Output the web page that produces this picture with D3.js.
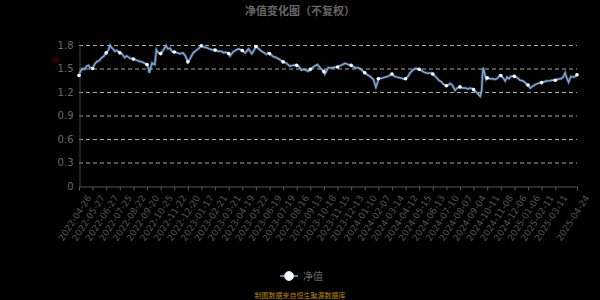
<!DOCTYPE html>
<html>
<head>
<meta charset="utf-8">
<title>净值变化图</title>
<script src="https://cdn.jsdelivr.net/npm/d3@7"></script>
<style>
  html, body { margin: 0; padding: 0; background: #000; }
  svg { display: block; background: #000; font-family: "Noto Sans CJK SC", "DejaVu Sans", sans-serif; }
</style>
</head>
<body>
<script>
// x axis labels (category axis, one label every 20 trading days, last one = last day)
var tickLabels = ["2022-04-26","2022-05-27","2022-06-27","2022-07-25","2022-08-22","2022-09-20",
  "2022-10-25","2022-11-22","2022-12-20","2023-01-17","2023-02-21","2023-03-21","2023-04-19",
  "2023-05-22","2023-06-19","2023-07-19","2023-08-16","2023-09-13","2023-10-18","2023-11-15",
  "2023-12-13","2024-01-10","2024-02-07","2024-03-14","2024-04-12","2024-05-15","2024-06-13",
  "2024-07-10","2024-08-07","2024-09-04","2024-10-11","2024-11-08","2024-12-06","2025-01-06",
  "2025-02-11","2025-03-11","2025-04-24"];
var tickStep = 20;     // trading days between labels
var lastDay = 732;     // trading day number of the last date

var yTicks = [0, 0.3, 0.6, 0.9, 1.2, 1.5, 1.8];

// 净值
var navDates = ["2022-04-26","2022-04-29","2022-05-05","2022-05-09","2022-05-13","2022-05-18","2022-05-21","2022-05-27",
  "2022-05-31","2022-06-06","2022-06-11","2022-06-17","2022-06-22","2022-06-27",
  "2022-07-01","2022-07-05","2022-07-09","2022-07-15","2022-07-19","2022-07-25",
  "2022-07-29","2022-08-04","2022-08-08","2022-08-15","2022-08-22",
  "2022-08-27","2022-09-05","2022-09-11","2022-09-20",
  "2022-09-22","2022-09-26","2022-09-29","2022-10-03","2022-10-05","2022-10-10","2022-10-14","2022-10-19","2022-10-25",
  "2022-10-30","2022-11-05","2022-11-09","2022-11-13","2022-11-17","2022-11-22",
  "2022-11-28","2022-12-04","2022-12-10","2022-12-15","2022-12-20",
  "2022-12-24","2022-12-31","2023-01-06","2023-01-12","2023-01-17",
  "2023-01-24","2023-01-31","2023-02-06","2023-02-13","2023-02-21",
  "2023-02-27","2023-03-06","2023-03-11","2023-03-15","2023-03-21",
  "2023-03-24","2023-03-30","2023-04-07","2023-04-12","2023-04-17","2023-04-19",
  "2023-04-26","2023-05-04","2023-05-12","2023-05-16","2023-05-22",
  "2023-05-26","2023-06-03","2023-06-08","2023-06-13","2023-06-16","2023-06-19",
  "2023-06-28","2023-07-04","2023-07-10","2023-07-19",
  "2023-07-25","2023-08-02","2023-08-09","2023-08-16",
  "2023-08-21","2023-08-26","2023-08-31","2023-09-09","2023-09-13",
  "2023-09-21","2023-10-01","2023-10-10","2023-10-18",
  "2023-10-20","2023-10-27","2023-11-03","2023-11-13","2023-11-15",
  "2023-11-22","2023-12-01","2023-12-07","2023-12-13",
  "2023-12-21","2023-12-27","2023-12-31","2024-01-10",
  "2024-01-15","2024-01-21","2024-01-28","2024-02-02","2024-02-05","2024-02-07",
  "2024-02-19","2024-02-25","2024-03-04","2024-03-14",
  "2024-03-19","2024-03-25","2024-04-01","2024-04-07","2024-04-12",
  "2024-04-18","2024-04-23","2024-04-30","2024-05-05","2024-05-10","2024-05-15",
  "2024-05-21","2024-05-28","2024-06-04","2024-06-08","2024-06-13",
  "2024-06-18","2024-06-25","2024-06-30","2024-07-04","2024-07-10",
  "2024-07-14","2024-07-18","2024-07-22","2024-07-28","2024-08-01","2024-08-07",
  "2024-08-12","2024-08-18","2024-08-24","2024-08-28","2024-09-02","2024-09-04",
  "2024-09-13","2024-09-19","2024-09-22","2024-09-26","2024-09-28","2024-09-30","2024-10-08","2024-10-11",
  "2024-10-17","2024-10-22","2024-10-27","2024-10-31","2024-11-06","2024-11-08",
  "2024-11-13","2024-11-17","2024-11-21","2024-11-25","2024-11-29","2024-12-06",
  "2024-12-10","2024-12-15","2024-12-19","2024-12-26","2025-01-03","2025-01-06",
  "2025-01-12","2025-01-17","2025-01-25","2025-02-02","2025-02-11",
  "2025-02-16","2025-02-21","2025-02-28","2025-03-04","2025-03-11",
  "2025-03-15","2025-03-20","2025-03-23","2025-03-27","2025-03-31","2025-04-02","2025-04-07",
  "2025-04-09","2025-04-12","2025-04-17","2025-04-21","2025-04-24"];
var navValues = [1.41,1.46,1.50,1.49,1.53,1.54,1.51,1.50,
  1.55,1.59,1.60,1.64,1.66,1.70,
  1.73,1.795,1.76,1.72,1.73,1.70,
  1.69,1.64,1.66,1.63,1.62,
  1.61,1.59,1.58,1.55,
  1.53,1.445,1.50,1.57,1.56,1.55,1.74,1.70,1.69,
  1.73,1.79,1.75,1.76,1.72,1.71,
  1.70,1.69,1.70,1.66,1.585,
  1.62,1.70,1.73,1.76,1.79,
  1.77,1.765,1.75,1.74,1.735,
  1.72,1.72,1.70,1.71,1.69,
  1.66,1.71,1.74,1.75,1.735,1.73,
  1.70,1.75,1.69,1.72,1.78,
  1.76,1.72,1.70,1.68,1.70,1.69,
  1.65,1.64,1.62,1.585,
  1.57,1.53,1.54,1.54,
  1.52,1.48,1.49,1.465,1.49,
  1.52,1.55,1.50,1.46,
  1.43,1.51,1.51,1.52,1.52,
  1.54,1.565,1.55,1.54,
  1.51,1.51,1.50,1.445,
  1.42,1.40,1.36,1.26,1.31,1.37,
  1.38,1.39,1.40,1.43,
  1.40,1.39,1.38,1.37,1.37,
  1.40,1.445,1.48,1.50,1.50,1.49,
  1.47,1.445,1.44,1.445,1.43,
  1.40,1.35,1.33,1.30,1.28,
  1.29,1.31,1.29,1.22,1.25,1.265,
  1.25,1.25,1.24,1.25,1.24,1.23,
  1.19,1.16,1.145,1.22,1.40,1.51,1.36,1.38,
  1.37,1.37,1.36,1.37,1.41,1.41,
  1.38,1.34,1.39,1.37,1.40,1.40,
  1.39,1.37,1.35,1.34,1.30,1.29,
  1.25,1.27,1.295,1.31,1.32,
  1.33,1.34,1.345,1.35,1.35,
  1.36,1.37,1.37,1.39,1.445,1.40,1.325,
  1.36,1.40,1.39,1.40,1.42];

var width = 600, height = 300;
var margin = {left: 79, right: 23, top: 45, bottom: 114};
var parse = d3.timeParse("%Y-%m-%d");

var svg = d3.select("body").append("svg")
    .attr("width", width)
    .attr("height", height);

// trading-day position -> pixels, then dates mapped piecewise through the label dates
var dayScale = d3.scaleLinear()
    .domain([0, lastDay])
    .range([margin.left, width - margin.right]);
var tickDates = tickLabels.map(parse);
var x = d3.scaleTime()
    .domain(tickDates)
    .range(tickDates.map(function(d, i) {
        return dayScale(i < tickDates.length - 1 ? i * tickStep : lastDay);
    }));
var y = d3.scaleLinear()
    .domain([0, 1.8])
    .range([height - margin.bottom, margin.top]);

var data = navDates.map(function(d, i) { return {date: parse(d), label: d, value: navValues[i]}; });

// title
svg.append("text")
    .attr("x", 300).attr("y", 15)
    .attr("text-anchor", "middle")
    .attr("fill", "#666")
    .attr("font-size", 11)
    .attr("font-weight", "bold")
    .text("净值变化图（不复权）");

// grid lines
svg.append("g").selectAll("line")
    .data(yTicks.filter(function(t) { return t > 0; }))
    .enter().append("line")
    .attr("x1", margin.left).attr("x2", width - margin.right)
    .attr("y1", function(d) { return y(d) + 0.5; })
    .attr("y2", function(d) { return y(d) + 0.5; })
    .attr("stroke", "#aaa")
    .attr("stroke-dasharray", "4,3");

// y axis
var yAxis = svg.append("g")
    .attr("transform", "translate(" + (margin.left + 0.5) + ",0)")
    .call(d3.axisLeft(y).tickValues(yTicks).tickSize(0).tickPadding(6).tickFormat(d3.format("")));
yAxis.select(".domain").attr("stroke", "#444");
yAxis.selectAll("text").attr("fill", "#6a6a6a").attr("font-size", 10)
    .attr("font-family", "DejaVu Sans, sans-serif");

svg.append("text")
    .attr("transform", "translate(57,60) rotate(-90)")
    .attr("text-anchor", "middle")
    .attr("fill", "#8b0000")
    .attr("font-size", 7)
    .text("元");

// x axis
var xAxis = svg.append("g")
    .attr("transform", "translate(0," + (height - margin.bottom + 0.5) + ")")
    .call(d3.axisBottom(x).tickValues(tickDates).tickSize(4)
        .tickFormat(function(d, i) { return tickLabels[i]; }));
xAxis.select(".domain").attr("stroke", "#555");
xAxis.selectAll(".tick line").attr("stroke", "#555");
xAxis.selectAll("text")
    .attr("fill", "#555")
    .attr("font-size", 9)
    .attr("font-family", "DejaVu Sans, sans-serif")
    .attr("text-anchor", "end")
    .attr("dy", "0.3em")
    .attr("transform", "translate(4,6) rotate(-57)");

// line
var line = d3.line()
    .x(function(d) { return x(d.date); })
    .y(function(d) { return y(d.value); });

svg.append("path")
    .datum(data)
    .attr("fill", "none")
    .attr("stroke", "#cfe0f5")
    .attr("stroke-opacity", 0.25)
    .attr("stroke-width", 3)
    .attr("d", line);
svg.append("path")
    .datum(data)
    .attr("fill", "none")
    .attr("stroke", "#7aa6dc")
    .attr("stroke-width", 1.5)
    .attr("d", line);

// markers on the labelled days
svg.append("g").selectAll("circle")
    .data(data.filter(function(d) { return tickLabels.indexOf(d.label) >= 0; }))
    .enter().append("circle")
    .attr("cx", function(d) { return x(d.date); })
    .attr("cy", function(d) { return y(d.value); })
    .attr("r", 1.8)
    .attr("fill", "#fff");

// legend
var lg = svg.append("g");
lg.append("line")
    .attr("x1", 280).attr("x2", 298).attr("y1", 276).attr("y2", 276)
    .attr("stroke", "#7aa6dc").attr("stroke-width", 1.5);
lg.append("circle")
    .attr("cx", 289).attr("cy", 276).attr("r", 4.5)
    .attr("fill", "#fff").attr("stroke", "#cfe0f5").attr("stroke-width", 1);
lg.append("text")
    .attr("x", 303).attr("y", 280)
    .attr("fill", "#666").attr("font-size", 10)
    .text("净值");

svg.append("text")
    .attr("x", 300).attr("y", 298)
    .attr("text-anchor", "middle")
    .attr("fill", "#b8860b")
    .attr("font-size", 7)
    .text("制图数据来自恒生聚源数据库");
</script>
</body>
</html>
